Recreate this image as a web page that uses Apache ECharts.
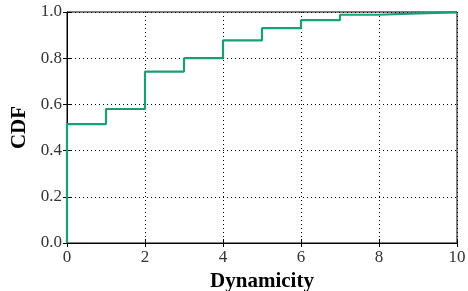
<!DOCTYPE html>
<html><head><meta charset="utf-8">
<script src="https://cdn.jsdelivr.net/npm/echarts@6/dist/echarts.min.js"></script>
<style>html,body{margin:0;padding:0;background:#fff}#c{width:468px;height:291px}</style>
</head><body><div id="c"></div>
<script>
const dynamicity = [0, 0, 1, 2, 3, 4, 5, 6, 7, 8, 9, 10];
const cdf = [0, 0.515, 0.58, 0.742, 0.80, 0.877, 0.93, 0.965, 0.988, 0.994, 0.998, 1.0];
const xTicks = [0, 2, 4, 6, 8, 10];
const yTicks = [0.0, 0.2, 0.4, 0.6, 0.8, 1.0];

const font = "'Liberation Serif', 'DejaVu Serif', serif";
const chart = echarts.init(document.getElementById('c'), null, {renderer: 'canvas'});
const gridLine = {show: true, lineStyle: {type: [1, 3], color: '#000', width: 1}};
chart.setOption({
  animation: false,
  grid: {left: 67, right: 11, top: 12, bottom: 48, show: true, borderColor: '#000', borderWidth: 1,
    containLabel: false, outerBoundsMode: 'none'},
  xAxis: [{
    type: 'value', min: 0, max: 10, interval: 2,
    name: 'Dynamicity', nameLocation: 'middle', nameGap: 25,
    nameTextStyle: {fontFamily: font, fontSize: 21, fontWeight: 'bold', color: '#000'},
    axisLine: {show: true, lineStyle: {color: '#000'}},
    axisTick: {show: true, inside: true, length: 4, lineStyle: {color: '#000'}},
    axisLabel: {fontFamily: font, fontSize: 17, color: '#333', margin: 6,
      formatter: v => xTicks.includes(v) ? String(v) : ''},
    splitLine: gridLine
  }, {
    type: 'value', position: 'top', min: 0, max: 10, interval: 2,
    axisLine: {show: false}, axisLabel: {show: false}, splitLine: {show: false},
    axisTick: {show: true, inside: true, length: 4, lineStyle: {color: '#000'}}
  }],
  yAxis: [{
    type: 'value', min: 0, max: 1, interval: 0.2,
    name: 'CDF', nameLocation: 'middle', nameGap: 36, nameRotate: 90,
    nameTextStyle: {fontFamily: font, fontSize: 21, fontWeight: 'bold', color: '#000'},
    axisLine: {show: true, lineStyle: {color: '#000'}},
    axisTick: {show: true, inside: true, length: 4, lineStyle: {color: '#000'}},
    axisLabel: {fontFamily: font, fontSize: 17, color: '#333', margin: 5,
      formatter: v => { const t = yTicks.find(y => Math.abs(y - v) < 1e-9); return t === undefined ? '' : t.toFixed(1); }},
    splitLine: gridLine
  }, {
    type: 'value', position: 'right', min: 0, max: 1, interval: 0.2,
    axisLine: {show: false}, axisLabel: {show: false}, splitLine: {show: false},
    axisTick: {show: true, inside: true, length: 4, lineStyle: {color: '#000'}}
  }],
  series: [{
    type: 'line', step: 'end', showSymbol: false, symbol: 'none',
    data: dynamicity.map((x, i) => [x, cdf[i]]),
    lineStyle: {color: '#1b9e77', width: 2.2},
    itemStyle: {color: '#1b9e77'}
  }]
});
</script></body></html>
